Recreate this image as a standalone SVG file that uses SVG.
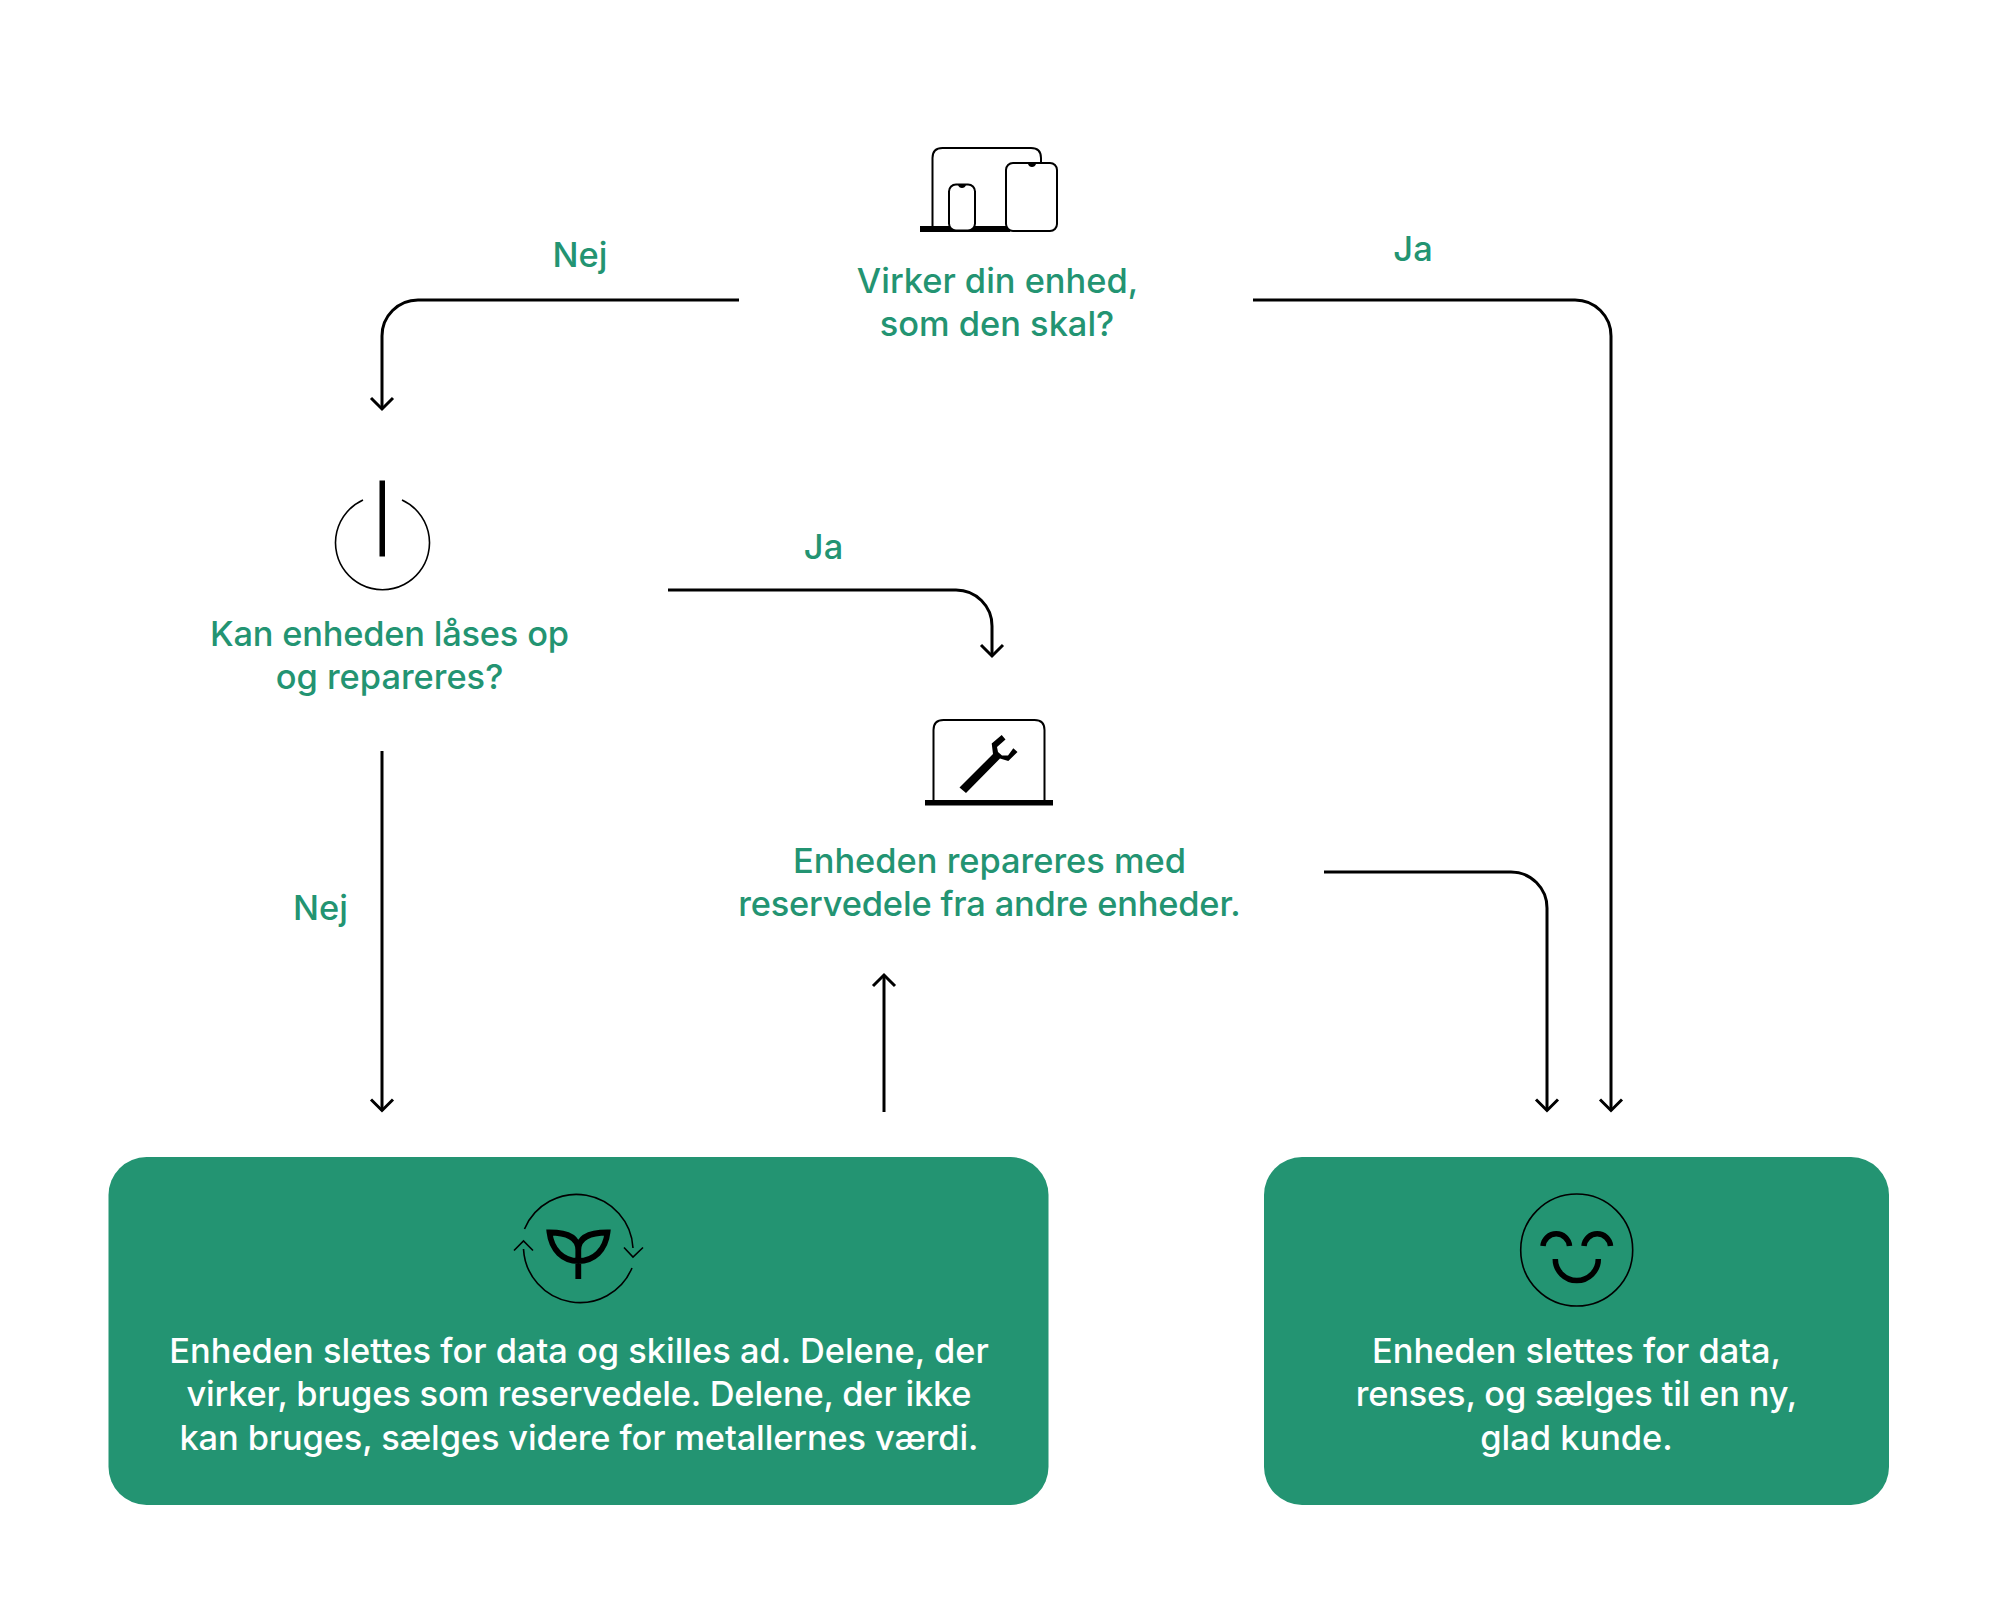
<svg xmlns="http://www.w3.org/2000/svg" width="1995" height="1600" viewBox="0 0 1995 1600">
<defs>
<marker id="arr" viewBox="-13 -13 26 26" markerUnits="userSpaceOnUse" markerWidth="26" markerHeight="26" orient="auto" refX="0" refY="0"><path d="M-11 -11L0 0L-11 11" fill="none" stroke="#000" stroke-width="3"/></marker>
</defs>
<style>
text{font-family:Inter,"Noto Sans",sans-serif;font-weight:500;font-size:34.4px;text-anchor:middle}
.g{fill:#239472}
.w{fill:#fff}
.c{fill:none;stroke:#000;stroke-width:3;marker-end:url(#arr)}
.t{fill:none;stroke:#000;stroke-width:1.6}
.d{fill:#fff;stroke:#000;stroke-width:2}
.h{fill:none;stroke:#000;stroke-width:5.500}
.b{fill:#239472}
</style>
<rect width="1995" height="1600" fill="#fff"/>
<g id="connectors">
<path class="c" d="M739 300H418A36 36 0 0 0 382 336V409"/>
<path class="c" d="M1253 300H1575A36 36 0 0 1 1611 336V1110.500"/>
<path class="c" d="M668 590H956A36 36 0 0 1 992 626V656"/>
<path class="c" d="M382 751V1110.500"/>
<path class="c" d="M884 1112V975"/>
<path class="c" d="M1324 872H1511A36 36 0 0 1 1547 908V1110.500"/>
</g>
<g id="label-nej-1"><text class="g" x="580" y="267">Nej</text></g>
<g id="label-ja-1"><text class="g" x="1413" y="261">Ja</text></g>
<g id="label-ja-2"><text class="g" x="823.500" y="559">Ja</text></g>
<g id="label-nej-2"><text class="g" x="320.500" y="920">Nej</text></g>
<g id="node-start">
<path class="d" style="fill:none" d="M932.500 226V158Q932.500 148 942.500 148H1031Q1041 148 1041 158V164"/>
<rect x="920" y="226" width="90" height="6"/>
<rect class="d" x="949" y="184.500" width="26" height="46" rx="7"/>
<rect class="d" x="1006" y="163" width="51" height="68" rx="7"/>
<path d="M958 185h8q-1 3-4 3t-4-3zM1028 164h8q-1 3-4 3t-4-3z"/>
<text class="g" x="997.500" y="292.500">Virker din enhed,</text>
<text class="g" x="997" y="335.500">som den skal?</text>
</g>
<g id="node-unlock">
<path class="t" d="M363 500A47 47 0 1 0 402 500"/>
<rect x="379.500" y="480.500" width="5.500" height="76"/>
<text class="g" x="389.500" y="645.500" textLength="359">Kan enheden låses op</text>
<text class="g" x="389.500" y="688.500">og repareres?</text>
</g>
<g id="node-repair">
<path class="d" style="fill:none" d="M933.500 800V730Q933.500 720 943.500 720H1034.500Q1044.500 720 1044.500 730V800"/>
<rect x="925" y="800" width="128" height="5.500"/>
<path d="M959.500 787.500L993 754L991.700 743.500L1001.700 735L1005.500 739.500L997 747L998 752L1002 755.500L1008 755.500L1013.300 748.300L1017.500 752L1008.300 761L1000 758.500L966 793Z"/>
<text class="g" x="989.500" y="873">Enheden repareres med</text>
<text class="g" x="989.500" y="916" textLength="502.600">reservedele fra andre enheder.</text>
</g>
<g id="node-recycle">
<rect class="b" x="108.500" y="1157" width="940" height="348" rx="38"/>
<path class="t" d="M524.500 1229A56.500 56.500 0 0 1 633 1248M632 1268A56.500 56.500 0 0 1 523.500 1249"/>
<path class="t" d="M514 1250.500L523.500 1241L533 1250.500M624 1247.500L633 1257L643 1247.500"/>
<path class="h" style="stroke-width:5.800" d="M578.300 1279V1250C578.300 1240 586 1232.500 607.500 1232.500C605.500 1250 594 1261 578.300 1261C563 1261 551.500 1250 549.500 1232.500C571 1232.500 578.300 1240 578.300 1250"/>
<text class="w" x="579" y="1362.500">Enheden slettes for data og skilles ad. Delene, der</text>
<text class="w" x="579" y="1405.500" textLength="785">virker, bruges som reservedele. Delene, der ikke</text>
<text class="w" x="579" y="1449.500" textLength="799">kan bruges, sælges videre for metallernes værdi.</text>
</g>
<g id="node-happy">
<rect class="b" x="1264" y="1157" width="625" height="348" rx="38"/>
<circle class="t" cx="1576.700" cy="1250" r="56"/>
<path class="h" d="M1543 1246A13.300 13.300 0 0 1 1569.500 1246M1584 1246A13.300 13.300 0 0 1 1610.500 1246M1555.300 1259A21.500 21.500 0 0 0 1598.300 1259"/>
<text class="w" x="1576.500" y="1362.500">Enheden slettes for data,</text>
<text class="w" x="1576.500" y="1405.500" textLength="441.500">renses, og sælges til en ny,</text>
<text class="w" x="1576.500" y="1449.500">glad kunde.</text>
</g>
</svg>
